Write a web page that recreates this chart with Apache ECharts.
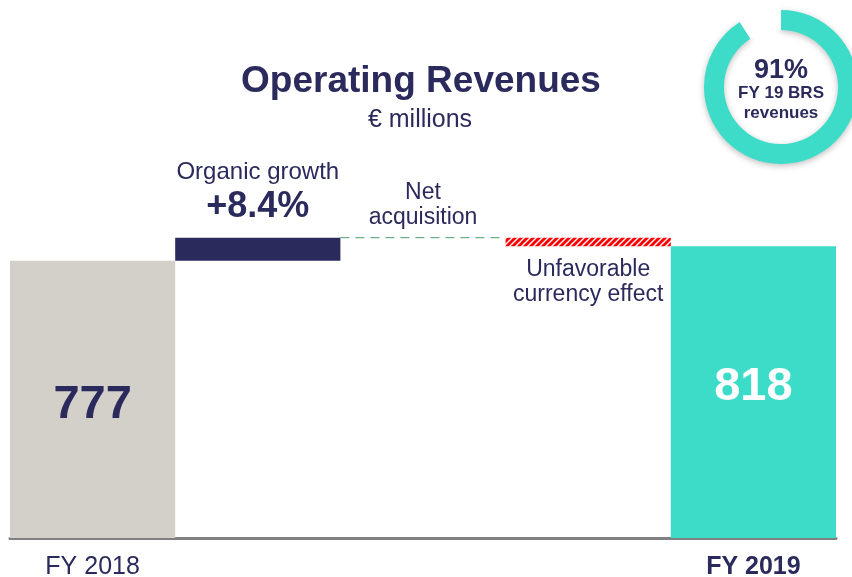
<!DOCTYPE html>
<html><head><meta charset="utf-8">
<script src="https://cdn.jsdelivr.net/npm/echarts@6/dist/echarts.min.js"></script>
<style>html,body{margin:0;padding:0;background:#fff}#c{width:852px;height:577px}</style>
</head><body><div id="c"></div>
<script>
// ---- data ----
const categories = ['FY 2018', 'Organic growth', 'Net acquisition', 'Unfavorable currency effect', 'FY 2019'];
const baseValues = [0, 777, 842, 818, 0];
const deltaValues = [777, 65, 0, 24, 818];
const axisLabels = ['FY 2018', '', '', '', 'FY 2019'];
const organicLabel = ['Organic growth', '+8.4%'];
const netAcqLabel = ['Net', 'acquisition'];
const currencyLabel = ['Unfavorable', 'currency effect'];
const titleText = 'Operating Revenues';
const subtitleText = '€ millions';
const donutValues = [91, 9];
const donutLabel = ['91%', 'FY 19 BRS', 'revenues'];

// ---- style ----
const FONT = '"Liberation Sans", Arial, sans-serif';
const navy = '#2b2a5c';
const gray = '#d3d0c9';
const teal = '#3ddcc8';

const pc = document.createElement('canvas');
pc.width = 6; pc.height = 6;
const g = pc.getContext('2d');
g.fillStyle = '#ff0000'; g.fillRect(0, 0, 6, 6);
g.strokeStyle = '#ffffff'; g.lineWidth = 1.4;
g.beginPath();
g.moveTo(0, 6); g.lineTo(6, 0);
g.moveTo(-3, 3); g.lineTo(3, -3);
g.moveTo(3, 9); g.lineTo(9, 3);
g.stroke();
const hatch = { image: pc, repeat: 'repeat' };

const deltaData = deltaValues.map((v, i) => {
  const d = { value: v };
  if (i === 0) {
    d.itemStyle = { color: gray };
    d.label = { show: true, position: 'inside', formatter: '{c}', fontSize: 47, fontWeight: 'bold', color: navy, offset: [0, 6] };
  } else if (i === 1) {
    d.itemStyle = { color: navy };
    d.label = {
      show: true, position: 'top', distance: 11,
      formatter: '{a|' + organicLabel[0] + '}\n{b|' + organicLabel[1] + '}',
      rich: {
        a: { fontSize: 24, lineHeight: 28, color: navy, fontFamily: FONT },
        b: { fontSize: 36, lineHeight: 40, fontWeight: 'bold', color: navy, fontFamily: FONT }
      }
    };
  } else if (i === 2) {
    d.itemStyle = { color: 'rgba(0,0,0,0)' };
  } else if (i === 3) {
    d.itemStyle = { color: hatch };
    d.label = { show: true, position: 'bottom', distance: 11, formatter: currencyLabel.join('\n'), fontSize: 23, lineHeight: 25, color: navy };
  } else {
    d.itemStyle = { color: teal };
    d.label = { show: true, position: 'inside', formatter: '{c}', fontSize: 47, fontWeight: 'bold', color: '#ffffff', offset: [0, -5] };
  }
  return d;
});

const chart = echarts.init(document.getElementById('c'), null, { renderer: 'canvas' });
chart.setOption({
  animation: false,
  textStyle: { fontFamily: FONT },
  graphic: [
    { type: 'text', x: 421, y: 82, style: { text: titleText, font: 'bold 37px ' + FONT, fill: navy, align: 'center', verticalAlign: 'middle' } },
    { type: 'text', x: 420, y: 120, style: { text: subtitleText, font: '25px ' + FONT, fill: navy, align: 'center', verticalAlign: 'middle' } }
  ],
  grid: { left: 10, right: 16, top: 217, bottom: 39, containLabel: false, outerBoundsMode: 'none' },
  xAxis: {
    type: 'category', data: categories,
    axisLine: { lineStyle: { color: '#808080', width: 3 } },
    axisTick: { show: false },
    axisLabel: {
      interval: 0, margin: 17, fontSize: 25, color: navy,
      formatter: (v, i) => i === axisLabels.length - 1 ? '{b|' + axisLabels[i] + '}' : axisLabels[i],
      rich: { b: { fontSize: 25, fontWeight: 'bold', color: navy, fontFamily: FONT } }
    }
  },
  yAxis: { type: 'value', min: 0, max: 900, show: false, splitLine: { show: false } },
  series: [
    { type: 'bar', stack: 'w', silent: true, barCategoryGap: '0%', data: baseValues, itemStyle: { color: 'rgba(0,0,0,0)' } },
    { type: 'bar', stack: 'w', silent: true, barCategoryGap: '0%', data: deltaData, label: { fontFamily: FONT } },
    {
      type: 'custom', silent: true,
      data: [[2, baseValues[2] + deltaValues[2]]],
      renderItem: (params, api) => {
        const p = api.coord([api.value(0), api.value(1)]);
        const w = api.size([1, 0])[0];
        return {
          type: 'group', children: [
            { type: 'line', shape: { x1: p[0] - w / 2, y1: p[1], x2: p[0] + w / 2, y2: p[1] }, style: { stroke: '#46a06c', lineWidth: 1, lineDash: [9, 6] } },
            { type: 'text', x: p[0], y: p[1] - 8, style: { text: netAcqLabel.join('\n'), font: '23px ' + FONT, fill: navy, align: 'center', verticalAlign: 'bottom', lineHeight: 25 } }
          ]
        };
      }
    },
    {
      type: 'pie', silent: true, radius: [57, 77], center: [781, 87], startAngle: 90, clockwise: true,
      emphasis: { disabled: true },
      labelLine: { show: false },
      label: { show: false },
      data: [
        {
          value: donutValues[0],
          itemStyle: { color: teal, shadowBlur: 6, shadowColor: 'rgba(0,0,0,0.25)', shadowOffsetY: 2 },
          label: {
            show: true, position: 'center', offset: [0, 4],
            formatter: '{a|' + donutLabel[0] + '}\n{b|' + donutLabel[1] + '}\n{b|' + donutLabel[2] + '}',
            rich: {
              a: { fontSize: 27, fontWeight: 'bold', color: navy, lineHeight: 25, fontFamily: FONT },
              b: { fontSize: 17, fontWeight: 'bold', color: navy, lineHeight: 20, fontFamily: FONT }
            }
          }
        },
        { value: donutValues[1], itemStyle: { color: '#ffffff' } }
      ]
    }
  ]
});
</script></body></html>
